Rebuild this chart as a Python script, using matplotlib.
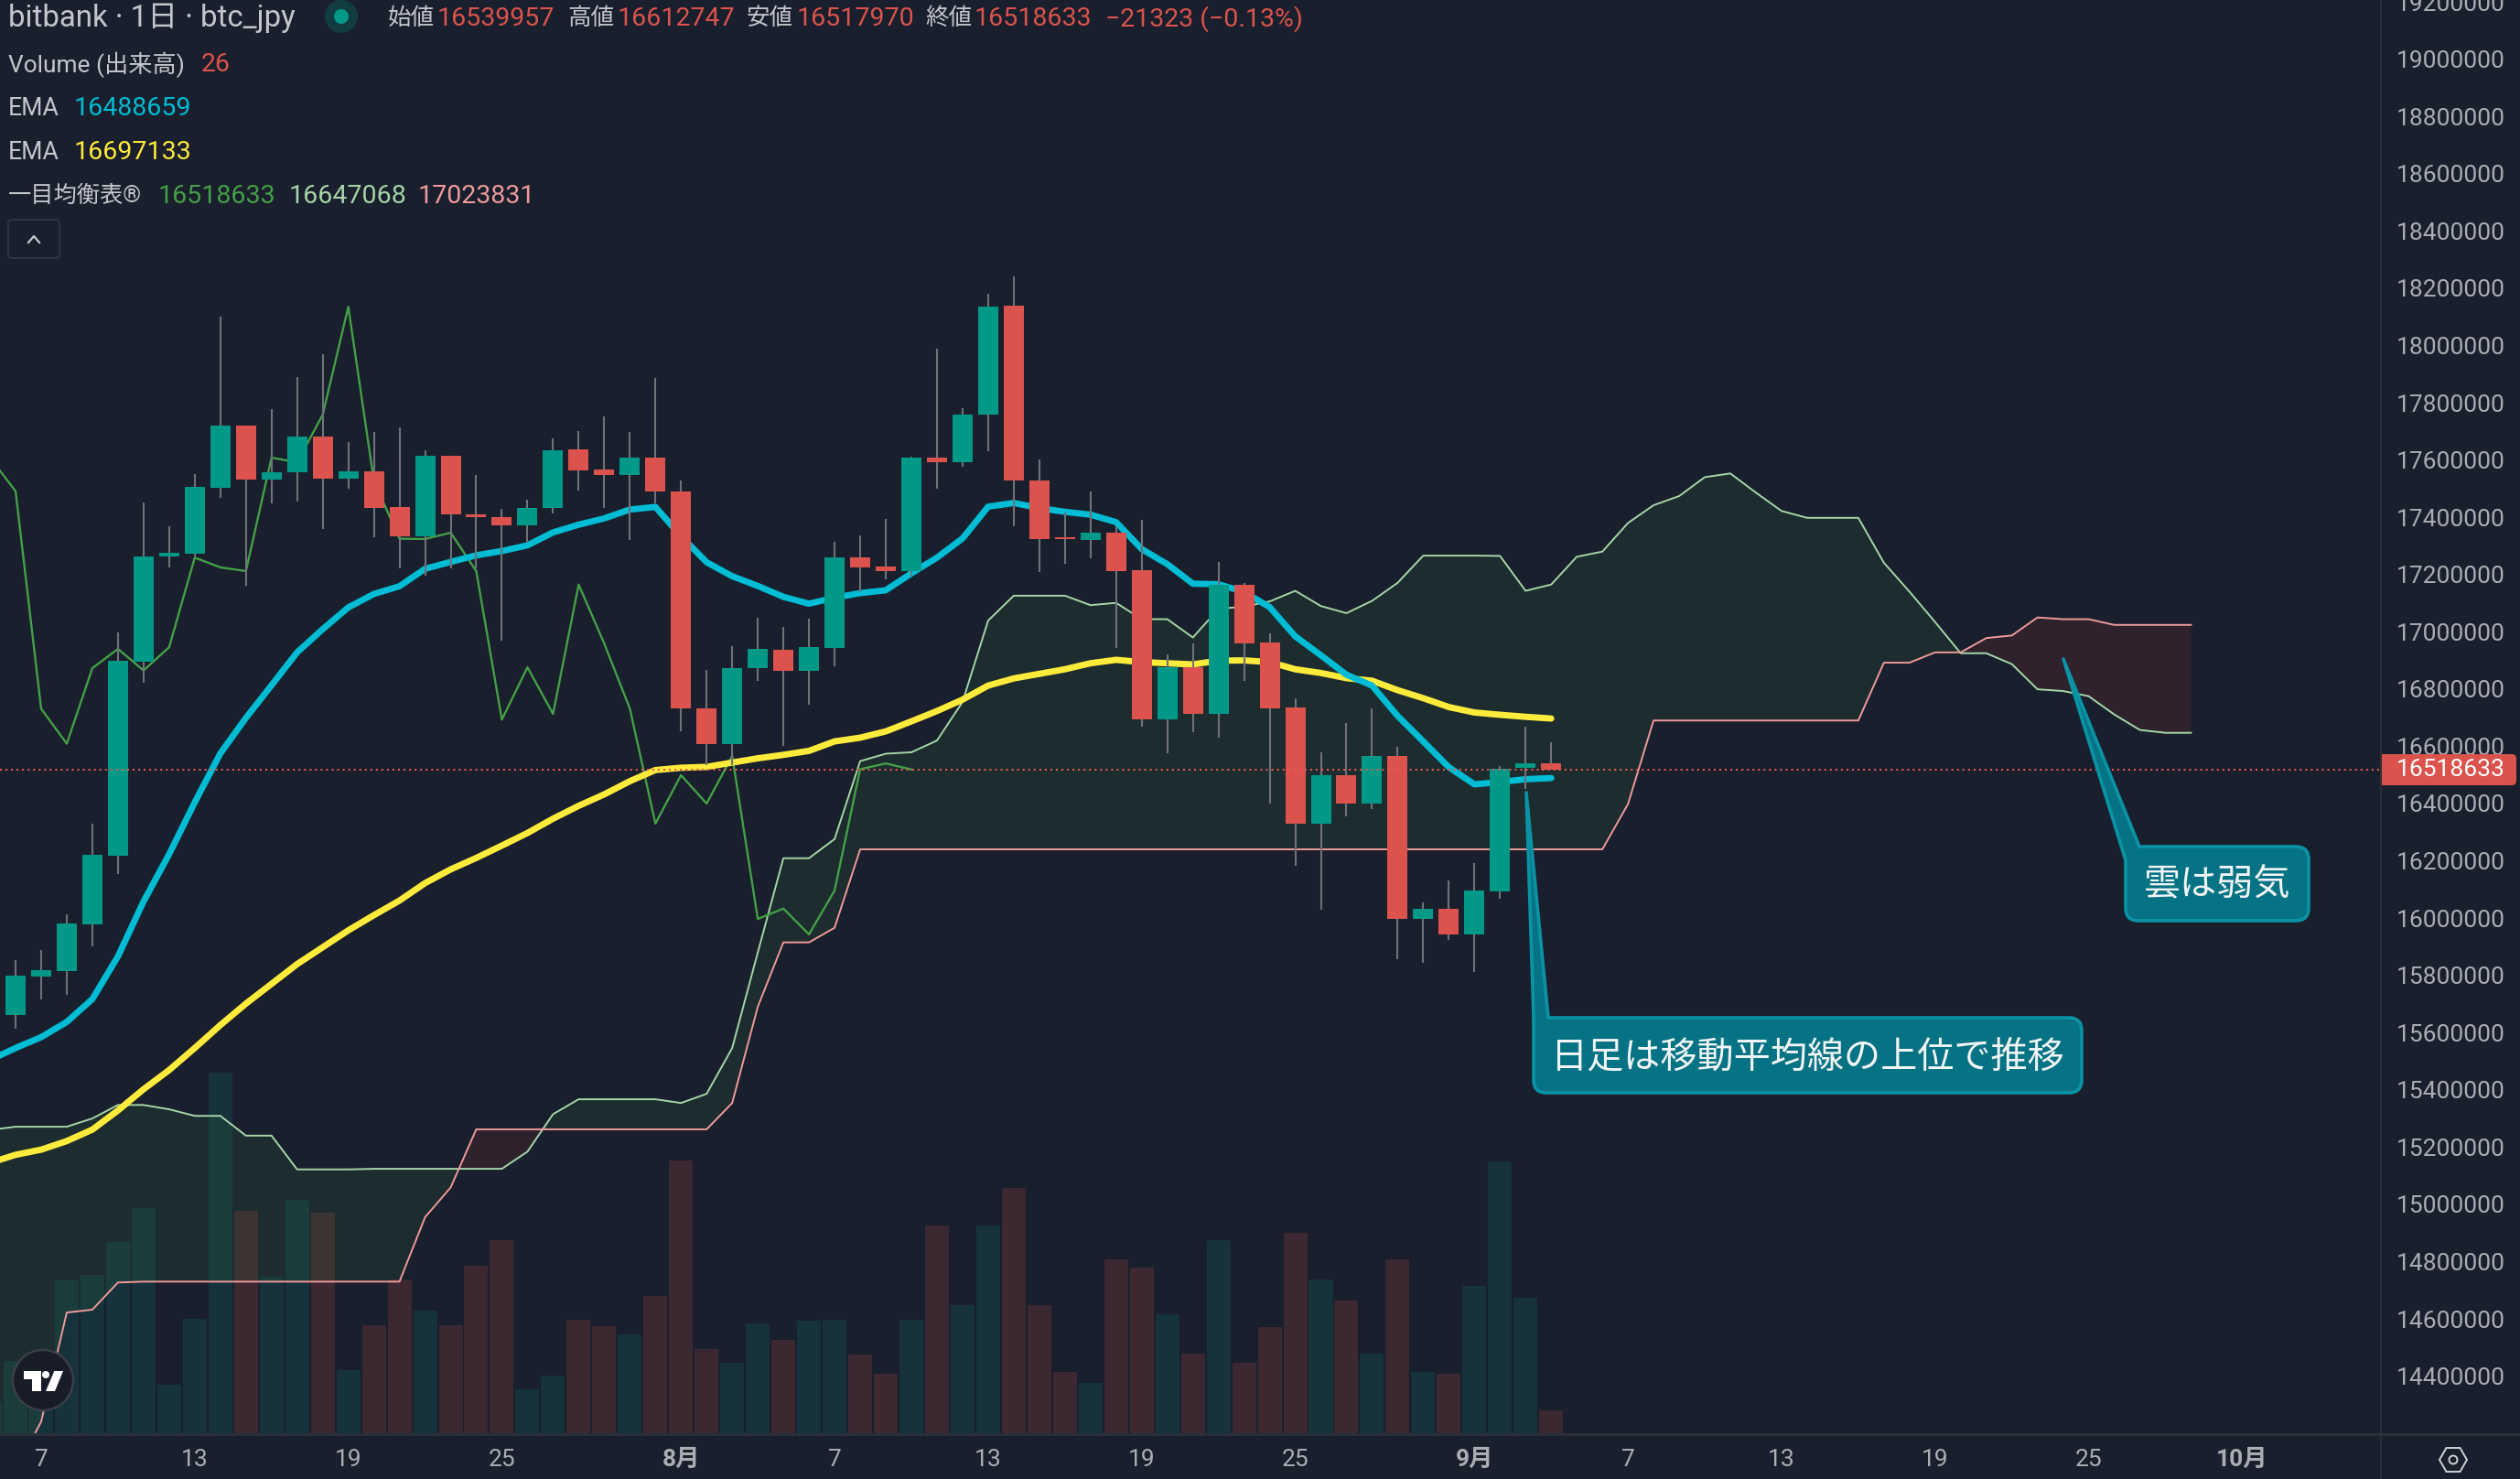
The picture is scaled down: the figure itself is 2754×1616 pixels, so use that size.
import numpy as np
import matplotlib
matplotlib.use("Agg")
import matplotlib.pyplot as plt
from matplotlib.path import Path
from matplotlib.patches import Circle, FancyBboxPatch, PathPatch, Polygon, RegularPolygon, Rectangle

plt.rcParams['font.family'] = ['Roboto', 'Noto Sans CJK JP', 'DejaVu Sans']

W, H = 2754, 1616
BG = '#191F2C'
UP = '#009988'
DOWN = '#DB534C'
WICK = '#6F7278'
TEXT = '#C4C6CC'
AXIS_TEXT = '#ABADB3'
CYAN = '#00BCD4'
YELLOW = '#FFEB3B'
CHIKOU = '#43A047'
SPAN_A = '#A5D6A7'
SPAN_B = '#EF9A9A'
LINE = '#2B303B'
DAY_PX = 27.97

# Prices in millions of yen. Day 0 is Jul 7, day 25 is Aug 1, day 56 is Sep 1
candle_days = np.arange(-1, 60)
opens = [15.661, 15.796, 15.815, 15.978, 16.218, 16.896, 17.262, 17.273, 17.504,
         17.720, 17.533, 17.556, 17.683, 17.536, 17.560, 17.436, 17.334, 17.614, 17.410,
         17.400, 17.373, 17.431, 17.637, 17.567, 17.548, 17.608,
         17.491, 16.731, 16.609, 16.872, 16.938, 16.865, 16.943, 17.259, 17.228, 17.212,
         17.608, 17.592, 17.757, 18.138, 17.528, 17.329, 17.321, 17.346, 17.215, 16.693,
         16.876, 16.713, 17.165, 16.962, 16.736, 16.330, 16.499, 16.400, 16.566, 15.997,
         16.033, 15.943, 16.093, 16.525, 16.540]
closes = [15.799, 15.818, 15.981, 16.221, 16.899, 17.263, 17.276, 17.506, 17.720,
          17.533, 17.557, 17.683, 17.536, 17.560, 17.434, 17.334, 17.614, 17.409, 17.399,
          17.373, 17.433, 17.634, 17.565, 17.548, 17.608, 17.491,
          16.731, 16.609, 16.873, 16.940, 16.865, 16.946, 17.259, 17.225, 17.212, 17.608,
          17.592, 17.758, 18.135, 17.527, 17.325, 17.324, 17.346, 17.212, 16.693, 16.876,
          16.713, 17.165, 16.959, 16.732, 16.330, 16.499, 16.400, 16.566, 15.997, 16.033,
          15.943, 16.096, 16.520, 16.540, 16.519]
highs = [15.853, 15.888, 16.013, 16.329, 16.999, 17.453, 17.367, 17.550, 18.101,
         17.720, 17.777, 17.891, 17.968, 17.663, 17.697, 17.713, 17.633, 17.614, 17.547,
         17.428, 17.460, 17.674, 17.700, 17.751, 17.697, 17.888,
         17.527, 16.866, 16.949, 17.048, 17.017, 17.045, 17.315, 17.338, 17.395, 17.612,
         17.988, 17.781, 18.181, 18.241, 17.602, 17.416, 17.489, 17.367, 17.391, 16.922,
         16.959, 17.245, 17.171, 16.995, 16.768, 16.579, 16.682, 16.732, 16.599, 16.054,
         16.132, 16.192, 16.532, 16.669, 16.613]
lows = [15.613, 15.716, 15.732, 15.901, 16.153, 16.823, 17.226, 17.263, 17.469,
        17.162, 17.447, 17.456, 17.360, 17.501, 17.331, 17.223, 17.197, 17.222, 17.220,
        16.968, 17.310, 17.414, 17.494, 17.431, 17.320, 17.448,
        16.651, 16.535, 16.535, 16.829, 16.602, 16.746, 16.881, 17.139, 17.183, 17.196,
        17.499, 17.576, 17.631, 17.370, 17.210, 17.236, 17.258, 16.943, 16.669, 16.576,
        16.649, 16.630, 16.829, 16.400, 16.184, 16.029, 16.356, 16.380, 15.856, 15.845,
        15.923, 15.811, 16.067, 16.450, 16.518]

# Jul 5 to Sep 4
line_days = np.arange(-2, 60)
ema_fast = [15.504, 15.546, 15.584, 15.637, 15.717, 15.866, 16.058, 16.223, 16.404, 16.575,
            16.699, 16.813, 16.928, 17.009, 17.085, 17.132, 17.159, 17.220, 17.244, 17.267,
            17.282, 17.302, 17.347, 17.374, 17.396, 17.427, 17.436,
            17.334, 17.243, 17.194, 17.160, 17.122, 17.098, 17.119, 17.135, 17.145, 17.204,
            17.259, 17.326, 17.437, 17.450, 17.432, 17.419, 17.409, 17.383, 17.289, 17.236,
            17.168, 17.166, 17.139, 17.086, 16.984, 16.918, 16.850, 16.812, 16.706, 16.617,
            16.527, 16.467, 16.475, 16.485, 16.489]
ema_slow = [15.145, 15.173, 15.191, 15.221, 15.261, 15.328, 15.402, 15.469, 15.546, 15.626,
            15.701, 15.770, 15.839, 15.898, 15.957, 16.010, 16.061, 16.122, 16.170, 16.210,
            16.253, 16.297, 16.347, 16.392, 16.432, 16.478, 16.517,
            16.525, 16.528, 16.543, 16.558, 16.570, 16.584, 16.617, 16.630, 16.652, 16.687,
            16.723, 16.763, 16.812, 16.837, 16.853, 16.869, 16.890, 16.902, 16.894, 16.890,
            16.886, 16.899, 16.900, 16.894, 16.869, 16.856, 16.838, 16.829, 16.796, 16.768,
            16.737, 16.718, 16.710, 16.703, 16.697]
# Volume, last bar is the 26 of the legend
volumes = [35, 81, 74, 172, 178, 215, 253, 54, 129, 405,
           250, 176, 262, 248, 71, 121, 173, 138, 121, 188,
           217, 49, 65, 127, 120, 111, 154,
           306, 95, 79, 123, 105, 126, 127, 88, 67, 127,
           233, 144, 233, 276, 144, 69, 57, 195, 186, 134,
           89, 217, 79, 119, 225, 173, 149, 89, 195, 69,
           67, 166, 305, 152, 26]

# Lagging span, Jul 5 to Aug 10
chikou_days = np.arange(-2, 35)
chikou = [17.608, 17.491, 16.731, 16.609, 16.873, 16.940, 16.865, 16.946, 17.259, 17.225,
          17.212, 17.608, 17.592, 17.758, 18.135, 17.527, 17.325, 17.324, 17.346, 17.212,
          16.693, 16.876, 16.713, 17.165, 16.959, 16.732, 16.330,
          16.499, 16.400, 16.566, 15.997, 16.033, 15.943, 16.096, 16.520, 16.540, 16.519]

# Cloud, Jul 5 to Sep 29
cloud_days = np.arange(-2, 85)
span_a = [15.260, 15.271, 15.271, 15.271, 15.300, 15.347, 15.347, 15.332, 15.309, 15.309,
          15.240, 15.240, 15.122, 15.122, 15.122, 15.124, 15.124, 15.124, 15.124, 15.124,
          15.124, 15.184, 15.315, 15.367, 15.367, 15.367, 15.367,
          15.354, 15.386, 15.546, 15.880, 16.209, 16.209, 16.276, 16.548, 16.574, 16.579,
          16.620, 16.755, 17.039, 17.126, 17.126, 17.126, 17.093, 17.101, 17.044, 17.044,
          16.980, 17.080, 17.088, 17.106, 17.143, 17.090, 17.065, 17.108, 17.171, 17.266, 17.266,
          17.266, 17.265, 17.143, 17.165, 17.262, 17.280, 17.380, 17.442, 17.474, 17.540,
          17.553, 17.486, 17.422, 17.398, 17.398, 17.398, 17.241, 17.140, 17.034, 16.925,
          16.925, 16.887, 16.799, 16.793, 16.775, 16.711, 16.657, 16.647, 16.647]
span_b = [14.070, 14.070, 14.241, 14.622, 14.632, 14.727, 14.730, 14.730, 14.730, 14.730,
          14.730, 14.730, 14.730, 14.730, 14.730, 14.730, 14.730, 14.955, 15.059, 15.262,
          15.262, 15.262, 15.262, 15.262, 15.262, 15.262, 15.262,
          15.262, 15.262, 15.354, 15.690, 15.915, 15.915, 15.966, 16.240, 16.240, 16.240,
          16.240, 16.240, 16.240, 16.240, 16.240, 16.240, 16.240, 16.240, 16.240, 16.240,
          16.240, 16.240, 16.240, 16.240, 16.240, 16.240, 16.240, 16.240, 16.240, 16.240, 16.240,
          16.240, 16.240, 16.240, 16.240, 16.240, 16.240, 16.398, 16.690, 16.690, 16.690,
          16.690, 16.690, 16.690, 16.690, 16.690, 16.690, 16.892, 16.892, 16.928, 16.928,
          16.978, 16.987, 17.050, 17.044, 17.044, 17.024, 17.024, 17.024, 17.024]

last_price = 16.518633

y_ticks = [14.4, 14.6, 14.8, 15.0, 15.2, 15.4, 15.6, 15.8, 16.0, 16.2, 16.4, 16.6, 16.8,
           17.0, 17.2, 17.4, 17.6, 17.8, 18.0, 18.2, 18.4, 18.6, 18.8, 19.0, 19.2]
y_tick_labels = ['14400000', '14600000', '14800000', '15000000', '15200000', '15400000',
                 '15600000', '15800000', '16000000', '16200000', '16400000', '16600000',
                 '16800000', '17000000', '17200000', '17400000', '17600000', '17800000',
                 '18000000', '18200000', '18400000', '18600000', '18800000', '19000000',
                 '19200000']
x_ticks = [0, 6, 12, 18, 25, 31, 37, 43, 49, 56, 62, 68, 74, 80, 86]
x_tick_labels = ['7', '13', '19', '25', '8月', '7', '13', '19', '25', '9月', '7', '13', '19', '25', '10月']

fig = plt.figure(figsize=(W / 100, H / 100), dpi=100, facecolor=BG)
rect = [0, 1 - 1566 / H, 2602 / W, 1566 / H]

# volume sits behind the price axes
ax_vol = fig.add_axes(rect, facecolor=BG)
ax = fig.add_axes(rect, sharex=ax_vol)
ax.patch.set_visible(False)
ax.set_xlim(-45 / DAY_PX, (2602 - 45) / DAY_PX)
ax.set_ylim(14.2004, 19.2068)
ax_vol.set_ylim(0, 1610)
ax_vol.axis('off')

# Jul 5 bar is cut by the left edge and has no candle on the chart
vol_bar_colors = ['#16323B'] + ['#16323B' if c >= o else '#3C2830' for o, c in zip(opens, closes)]
ax_vol.bar(line_days, volumes, width=0.93, color=vol_bar_colors, linewidth=0)

# Ichimoku cloud
a = np.array(span_a)
b = np.array(span_b)
ax.fill_between(cloud_days, a, b, where=a >= b, interpolate=True, color=CHIKOU, alpha=0.10, linewidth=0, zorder=1)
ax.fill_between(cloud_days, a, b, where=a <= b, interpolate=True, color='#F44336', alpha=0.10, linewidth=0, zorder=1)
ax.plot(cloud_days, span_a, color=SPAN_A, lw=1.4, zorder=2)
ax.plot(cloud_days, span_b, color=SPAN_B, lw=1.4, zorder=2)
ax.plot(chikou_days, chikou, color=CHIKOU, lw=1.7, zorder=2)

ax.plot(line_days, ema_slow, color=YELLOW, lw=5, zorder=3, solid_capstyle='round', solid_joinstyle='round')
ax.plot(line_days, ema_fast, color=CYAN, lw=5, zorder=3, solid_capstyle='round', solid_joinstyle='round')

# Candles
candle_colors = [UP if c >= o else DOWN for o, c in zip(opens, closes)]
ax.vlines(candle_days, lows, highs, color=WICK, lw=1.5, zorder=4)
bottoms = np.minimum(opens, closes)
heights = np.abs(np.array(closes) - np.array(opens))
ax.bar(candle_days, heights, bottom=bottoms, width=22 / DAY_PX, color=candle_colors, linewidth=0, zorder=5)

ax.axhline(last_price, color='#EE5A50', lw=1.45, ls=(0, (1, 2)), zorder=6)

for side in ax.spines.values():
    side.set_visible(False)
ax.yaxis.tick_right()
ax.set_yticks(y_ticks, labels=y_tick_labels)
ax.tick_params(axis='y', length=0, pad=12, labelsize=19, labelcolor=AXIS_TEXT)
ax.set_xticks(x_ticks, labels=x_tick_labels)
ax.tick_params(axis='x', length=0, pad=12, labelsize=19, labelcolor=AXIS_TEXT)
for label_text in ax.get_xticklabels():
    if label_text.get_text().endswith('月'):
        label_text.set_fontweight('bold')

# Everything else is placed in picture pixels
over = fig.add_axes([0, 0, 1, 1], zorder=10)
over.patch.set_visible(False)
over.set_xlim(0, W)
over.set_ylim(H, 0)
over.axis('off')

over.plot([2602, 2602], [0, H], color=LINE, lw=1.5)
over.plot([0, W], [1567, 1567], color=LINE, lw=2)


def label(x, y, text, color=TEXT, size=20.5):
    over.text(x, y, text, color=color, fontsize=size, ha='left', va='center')


label(9, 20, 'bitbank · 1日 · btc_jpy', size=23.8)
over.add_patch(Circle((373, 18), 18, color='#123D40', lw=0))
over.add_patch(Circle((373, 18), 8, color=UP, lw=0))
label(424, 20, '始値', size=18.4)
label(478, 21, '16539957', DOWN)
label(620, 20, '高値', size=18.4)
label(675, 21, '16612747', DOWN)
label(816, 20, '安値', size=18.4)
label(871, 21, '16517970', DOWN)
label(1011, 20, '終値', size=18.4)
label(1065, 21, '16518633', DOWN)
label(1208, 21, '−21323 (−0.13%)', DOWN)
label(9, 71, 'Volume (出来高)', size=18.9)
label(220, 71, '26', DOWN)
label(9, 119, 'EMA', size=19.2)
label(81, 119, '16488659', CYAN)
label(9, 167, 'EMA', size=19.2)
label(81, 167, '16697133', YELLOW)
label(9, 214, '一目均衡表®', size=18.2)
label(173, 215, '16518633', CHIKOU)
label(316, 215, '16647068', SPAN_A)
label(457, 215, '17023831', SPAN_B)

# collapse button
over.add_patch(FancyBboxPatch((9, 240), 56, 42, boxstyle='round,pad=0,rounding_size=4',
                              fc='none', ec='#2E3340', lw=1.5))
over.plot([31, 37, 43], [265, 258, 265], color='#C8CACC', lw=1.6)

# last price tag
over.add_patch(FancyBboxPatch((2602, 824), 148, 34, boxstyle='round,pad=0,rounding_size=5',
                              fc=DOWN, ec='none'))
over.add_patch(Rectangle((2602, 824), 20, 34, fc=DOWN, ec='none'))
over.text(2619, 841, '16518633', color='white', fontsize=19, ha='left', va='center')


def callout(x0, y0, x1, y1, tip, base_right, base_left_y, text):
    r = 14
    verts = [tip, (base_right, y0), (x1 - r, y0), (x1, y0), (x1, y0 + r), (x1, y1 - r), (x1, y1),
             (x1 - r, y1), (x0 + r, y1), (x0, y1), (x0, y1 - r), (x0, base_left_y), tip]
    codes = [Path.MOVETO, Path.LINETO, Path.LINETO, Path.CURVE3, Path.CURVE3, Path.LINETO, Path.CURVE3,
             Path.CURVE3, Path.LINETO, Path.CURVE3, Path.CURVE3, Path.LINETO, Path.CLOSEPOLY]
    over.add_patch(PathPatch(Path(verts, codes), fc='#067384', ec='#0A93A6', lw=2.6, joinstyle='round'))
    over.text((x0 + x1) / 2, (y0 + y1) / 2 + 2, text, color='#F2F5F6', fontsize=28.9, ha='center', va='center',
              family=['Noto Sans CJK JP', 'DejaVu Sans'])


callout(1676, 1112, 2275, 1194, (1668, 866), 1692, 1112, '日足は移動平均線の上位で推移')
callout(2323, 925, 2523, 1006, (2255, 720), 2338, 940, '雲は弱気')

# TradingView logo
over.add_patch(Circle((47, 1508), 33, fc='#171C28', ec='#3B3E48', lw=1.8))
t_shape = [(78, 113), (134, 113), (134, 180), (106, 180), (106, 142), (78, 142)]
slash = [(178, 114), (207, 114), (180, 180), (150, 180)]
over.add_patch(Polygon([(x / 3, 1460 + y / 3) for x, y in t_shape], fc='white', ec='none'))
over.add_patch(Polygon([(x / 3, 1460 + y / 3) for x, y in slash], fc='white', ec='none'))
over.add_patch(Circle((50, 1502), 4, fc='white', ec='none'))

# settings icon
over.add_patch(RegularPolygon((2681, 1595), 6, radius=15, orientation=np.pi / 6, fc='none', ec='#CFD1D6', lw=1.4))
over.add_patch(Circle((2681, 1595), 4.5, fc='none', ec='#CFD1D6', lw=1.4))

fig.savefig('out.png', dpi=100, facecolor=BG)
